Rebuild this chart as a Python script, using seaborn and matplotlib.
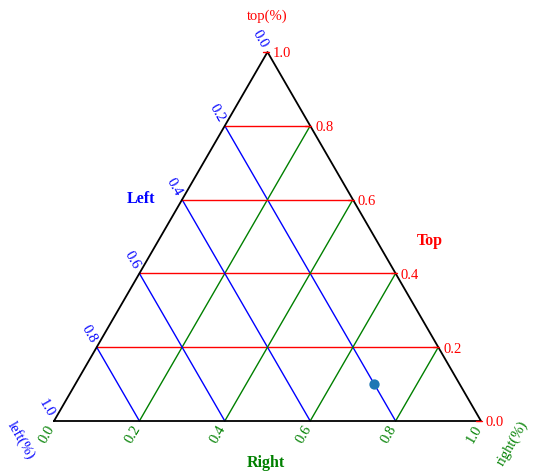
import numpy as np
import pandas as pd
import matplotlib
matplotlib.use("Agg")
import matplotlib.pyplot as plt
import seaborn as sns

sns.set_theme(style="white")
plt.rcParams['font.family'] = ['Liberation Serif', 'DejaVu Serif']

# data point (top, left, right)
top_vals = [0.1]
left_vals = [0.2]
right_vals = [0.7]

ticks = [0.0, 0.2, 0.4, 0.6, 0.8, 1.0]
tick_labels = ["0.0", "0.2", "0.4", "0.6", "0.8", "1.0"]

H = np.sqrt(3) / 2


def to_xy(t, l, r):
    t = np.asarray(t, dtype=float)
    r = np.asarray(r, dtype=float)
    return r + t / 2, t * H


fig = plt.figure(figsize=(5.41, 4.76), dpi=100)
ax = fig.add_axes([54 / 541, (476 - 421) / 476, 427 / 541, 369 / 476])
ax.set_xlim(0, 1)
ax.set_ylim(0, H)
ax.set_axis_off()

# grid lines
for v in ticks[1:-1]:
    # top constant (red)
    x, y = to_xy([v, v], [1 - v, 0], [0, 1 - v])
    ax.plot(x, y, color="red", lw=1, clip_on=False)
    # left constant (blue)
    x, y = to_xy([1 - v, 0], [v, v], [0, 1 - v])
    ax.plot(x, y, color="blue", lw=1, clip_on=False)
    # right constant (green)
    x, y = to_xy([1 - v, 0], [0, 1 - v], [v, v])
    ax.plot(x, y, color="green", lw=1, clip_on=False)

# triangle edges
x, y = to_xy([0, 0, 1, 0], [1, 0, 0, 1], [0, 1, 0, 0])
ax.plot(x, y, color="black", lw=1.3, clip_on=False, zorder=3)

fs = 10.5
for v, lab in zip(ticks, tick_labels):
    # top axis on right edge
    x, y = to_xy(v, 0, 1 - v)
    ax.plot([x - 5 / 427, x + 1 / 427], [y, y], color="red", lw=1, clip_on=False, zorder=4)
    ax.annotate(lab, xy=(x, y), xytext=(5, -2), textcoords="offset pixels",
                color="red", fontsize=fs, ha="left", va="center")
    # left axis on left edge
    x, y = to_xy(1 - v, v, 0)
    ax.annotate(lab, xy=(x, y), xytext=(-3, 5), textcoords="offset pixels",
                color="blue", fontsize=fs, ha="right", va="center",
                rotation=-60, rotation_mode="anchor")
    # right axis on bottom edge
    x, y = to_xy(0, 1 - v, v)
    ax.annotate(lab, xy=(x, y), xytext=(-2, -5), textcoords="offset pixels",
                color="green", fontsize=fs, ha="right", va="center",
                rotation=60, rotation_mode="anchor")

# axis titles
ax.annotate("top(%)", xy=(0.5, H), xytext=(0, 36), textcoords="offset pixels",
            color="red", fontsize=fs, ha="center", va="center")
ax.annotate("left(%)", xy=(0, 0), xytext=(-33, -19), textcoords="offset pixels",
            color="blue", fontsize=fs, ha="center", va="center", rotation=-60)
ax.annotate("right(%)", xy=(1, 0), xytext=(31, -22), textcoords="offset pixels",
            color="green", fontsize=fs, ha="center", va="center", rotation=60)

fig.text(141 / 541, 1 - 199 / 476, "Left", color="blue", fontsize=11.5,
         fontweight="bold", ha="center", va="center")
fig.text(430 / 541, 1 - 241 / 476, "Top", color="red", fontsize=11.5,
         fontweight="bold", ha="center", va="center")
fig.text(266 / 541, 1 - 463 / 476, "Right", color="green", fontsize=11.5,
         fontweight="bold", ha="center", va="center")

px, py = to_xy(top_vals, left_vals, right_vals)
df = pd.DataFrame({"x": px, "y": py})
sns.scatterplot(data=df, x="x", y="y", ax=ax, color="#1f77b4", s=55,
                linewidth=0, zorder=5, clip_on=False)
ax.set_xlabel("")
ax.set_ylabel("")

fig.savefig("out.png", dpi=100)
